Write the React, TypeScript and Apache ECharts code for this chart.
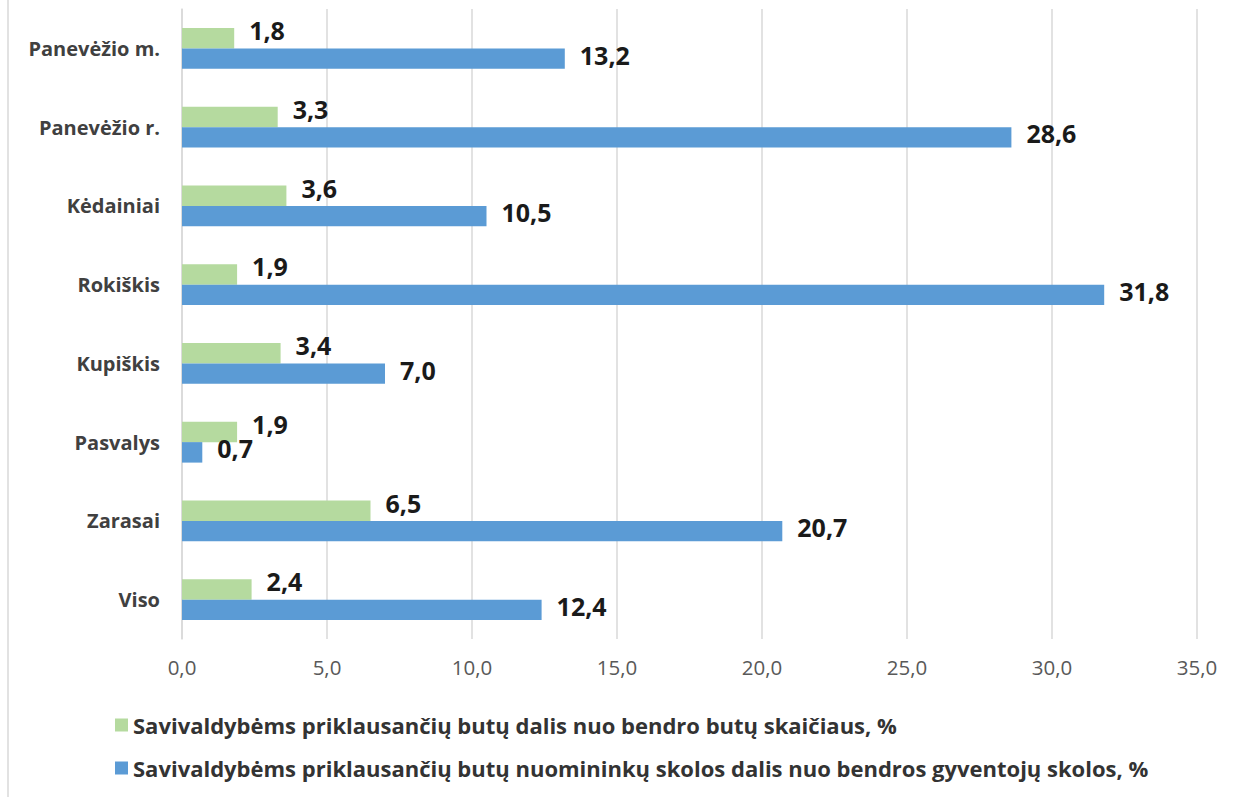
import React, { useEffect, useRef } from "react";
import * as echarts from "echarts";

const categories = ["Panevėžio m.", "Panevėžio r.", "Kėdainiai", "Rokiškis", "Kupiškis", "Pasvalys", "Zarasai", "Viso"];
const shareFlats = [1.8, 3.3, 3.6, 1.9, 3.4, 1.9, 6.5, 2.4];
const shareDebt = [13.2, 28.6, 10.5, 31.8, 7.0, 0.7, 20.7, 12.4];
const seriesNames = [
  "Savivaldybėms priklausančių butų dalis nuo bendro butų skaičiaus, %",
  "Savivaldybėms priklausančių butų nuomininkų skolos dalis nuo bendros gyventojų skolos, %",
];

const fmt = (v: number) => v.toFixed(1).replace(".", ",");
const FONT = "Open Sans";

export default function App() {
  const ref = useRef<HTMLDivElement>(null);
  useEffect(() => {
    if (!ref.current) return;
    const chart = echarts.init(ref.current, null, { renderer: "svg" });
    const labelStyle = {
      show: true,
      position: "right" as const,
      distance: 15,
      fontFamily: FONT,
      fontWeight: "bold" as const,
      fontSize: 25,
      color: "#1a1a1a",
      formatter: (p: any) => fmt(p.value),
    };
    chart.setOption({
      animation: false,
      backgroundColor: "#ffffff",
      grid: { left: 182, right: 53, top: 9, bottom: 158, containLabel: false },
      legend: {
        orient: "vertical",
        left: 110,
        top: 709,
        itemWidth: 13,
        itemHeight: 13,
        itemGap: 21,
        icon: "rect",
        textStyle: { fontFamily: FONT, fontWeight: "bold", fontSize: 22, color: "#333333" },
        data: seriesNames,
      },
      xAxis: {
        type: "value",
        min: 0,
        max: 35,
        interval: 5,
        axisLine: { show: false },
        axisTick: { show: false },
        splitLine: { show: true, lineStyle: { color: "#d9d9d9", width: 1.5 } },
        axisLabel: { fontFamily: FONT, fontSize: 20.5, color: "#595959", margin: 17, formatter: (v: number) => fmt(v) },
      },
      yAxis: {
        type: "category",
        data: categories,
        inverse: true,
        axisLine: { show: true, lineStyle: { color: "#d9d9d9", width: 1.5 } },
        axisTick: { show: false },
        axisLabel: { fontFamily: FONT, fontWeight: "bold", fontSize: 20, color: "#404040", margin: 22 },
      },
      series: [
        {
          name: seriesNames[0],
          type: "bar",
          data: shareFlats,
          itemStyle: { color: "#b5da9f" },
          barGap: "0%",
          barCategoryGap: "48%",
          label: { ...labelStyle, offset: [0, -8] },
        },
        {
          name: seriesNames[1],
          type: "bar",
          data: shareDebt,
          itemStyle: { color: "#5b9bd5" },
          barGap: "0%",
          barCategoryGap: "48%",
          label: { ...labelStyle, offset: [0, -4] },
        },
      ],
      graphic: [
        { type: "line", shape: { x1: 8, y1: 0, x2: 8, y2: 797 }, style: { stroke: "#d9d9d9", lineWidth: 1.5 } },
      ],
    });
    return () => chart.dispose();
  }, []);
  return <div ref={ref} style={{ position: "absolute", left: 0, top: 0, width: 1250, height: 797 }} />;
}
